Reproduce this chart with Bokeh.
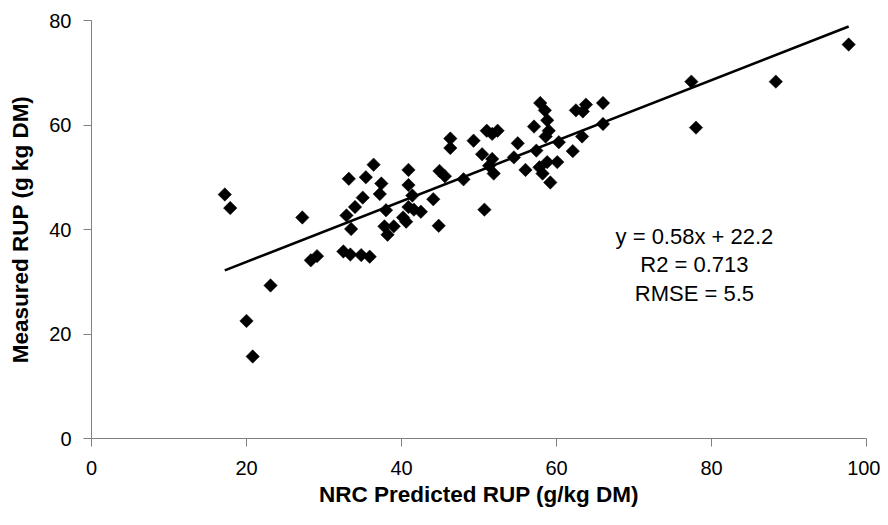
from bokeh.plotting import figure
from bokeh.models import Range1d, Label, FixedTicker
from bokeh.embed import file_html
from bokeh.resources import INLINE

# NRC predicted RUP (g/kg DM)
predicted = [17.2, 17.9, 20.0, 20.8, 23.1, 27.2, 28.3, 29.1, 32.5, 33.4,
             34.8, 35.9, 33.2, 35.4, 36.4, 37.4, 37.2, 35.0, 34.0, 32.9,
             33.5, 38.0, 37.8, 39.0, 38.2, 40.9, 40.9, 41.4, 40.9, 41.6,
             42.5, 40.2, 40.6, 44.1, 44.8, 44.9, 45.6, 46.3, 46.3, 48.0,
             49.3, 50.4, 50.7, 51.7, 51.3, 51.9, 51.0, 52.4, 51.7, 54.5,
             55.0, 56.0, 57.1, 57.4, 57.9, 58.5, 58.8, 59.0, 58.6, 58.8,
             57.8, 58.2, 59.2, 60.1, 60.3, 62.1, 63.3, 62.5, 63.4, 63.8,
             66.0, 66.0, 77.4, 78.0, 88.3, 97.7]
# Measured RUP (g kg DM)
measured = [46.7, 44.1, 22.5, 15.7, 29.3, 42.3, 34.1, 34.9, 35.8, 35.2,
            35.1, 34.8, 49.7, 50.0, 52.4, 48.8, 46.8, 46.1, 44.3, 42.7,
            40.1, 43.7, 40.6, 40.6, 39.0, 51.4, 48.5, 46.5, 44.3, 43.8,
            43.4, 42.3, 41.5, 45.8, 40.7, 51.2, 50.2, 57.4, 55.6, 49.6,
            57.0, 54.4, 43.8, 53.5, 52.2, 50.7, 58.9, 58.9, 58.3, 53.8,
            56.5, 51.4, 59.7, 55.1, 64.2, 62.8, 60.9, 58.9, 57.8, 52.9,
            51.9, 50.7, 49.0, 52.9, 56.7, 55.0, 57.8, 62.8, 62.6, 63.9,
            64.2, 60.2, 68.3, 59.5, 68.3, 75.4]

slope = 0.58
intercept = 22.2
annotation_lines = ["y = 0.58x + 22.2", "R2 = 0.713", "RMSE = 5.5"]
x_ticks = [0, 20, 40, 60, 80, 100]
y_ticks = [0, 20, 40, 60, 80]

FONT = "Liberation Sans"

p = figure(width=880, height=517, output_backend="svg", toolbar_location=None,
           x_range=Range1d(0, 100), y_range=Range1d(0, 80),
           min_border_left=91, min_border_right=14, min_border_top=20,
           min_border_bottom=79)
p.outline_line_color = None
p.grid.visible = False
p.background_fill_color = "white"
p.border_fill_color = "white"

# trend line
x0, x1 = min(predicted), max(predicted)
p.line([x0, x1], [slope * x0 + intercept, slope * x1 + intercept],
       line_color="black", line_width=2.6)

p.scatter(predicted, measured, marker="square", angle=45, angle_units="deg",
          size=9.5, fill_color="black", line_color="black", line_width=0.5)

for ax in (p.xaxis, p.yaxis):
    ax.axis_line_color = "#808080"
    ax.major_tick_line_color = "#808080"
    ax.minor_tick_line_color = None
    ax.major_tick_in = 0
    ax.major_tick_out = 8
    ax.major_label_text_font = FONT
    ax.major_label_text_font_size = "20px"
    ax.major_label_text_color = "black"
    ax.axis_label_text_font = FONT
    ax.axis_label_text_font_style = "bold"
    ax.axis_label_text_font_size = "22.5px"
    ax.axis_label_text_color = "black"

p.xaxis.ticker = FixedTicker(ticks=x_ticks)
p.yaxis.ticker = FixedTicker(ticks=y_ticks)
p.xaxis.major_label_standoff = 14
p.yaxis.major_label_standoff = 12
p.xaxis.axis_label = "NRC Predicted RUP (g/kg DM)"
p.yaxis.axis_label = "Measured RUP (g kg DM)"
p.xaxis.axis_label_standoff = 4
p.yaxis.axis_label_standoff = 13

for i, line in enumerate(annotation_lines):
    p.add_layout(Label(x=77.8, y=38.7 - i * 5.45, text=line,
                       text_align="center", text_baseline="middle",
                       text_font=FONT, text_font_size="22px",
                       text_color="black"))

open("out.html", "w").write(file_html(p, INLINE))
